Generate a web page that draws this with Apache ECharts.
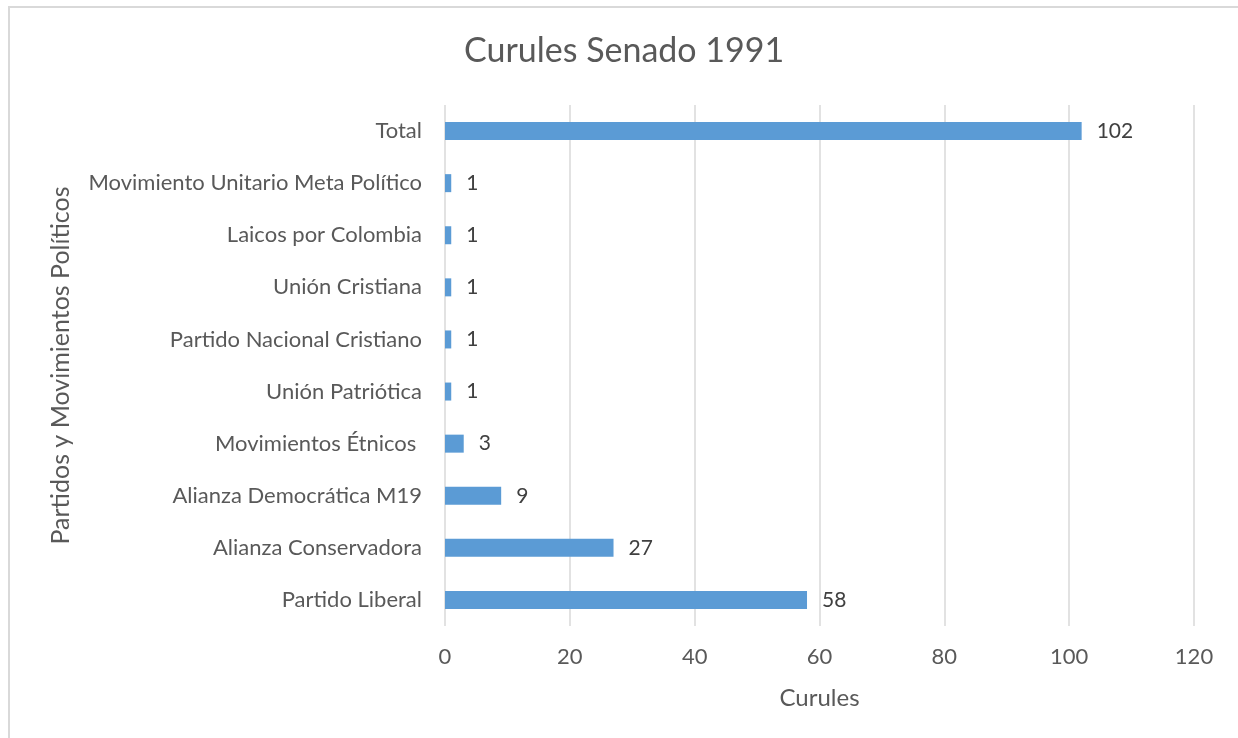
<!DOCTYPE html>
<html>
<head>
<meta charset="utf-8">
<script src="https://cdn.jsdelivr.net/npm/echarts@6/dist/echarts.min.js"></script>
<style>
    body { margin: 0; background: #fff; }
    #frame { position: absolute; left: 8px; top: 6px; width: 1240px; height: 740px;
             border-top: 2px solid #d9d9d9; border-left: 2px solid #d9d9d9; }
    #chart { position: absolute; left: 0; top: 0; width: 1238px; height: 738px; }
</style>
</head>
<body>
<div id="frame"></div>
<div id="chart"></div>
<script>
// categories from bottom to top
var partidos = ['Partido Liberal', 'Alianza Conservadora', 'Alianza Democrática M19',
    'Movimientos Étnicos ', 'Unión Patriótica', 'Partido Nacional Cristiano',
    'Unión Cristiana', 'Laicos por Colombia', 'Movimiento Unitario Meta Político', 'Total'];
var curules = [58, 27, 9, 3, 1, 1, 1, 1, 1, 102];

var font = 'Lato, "Open Sans", sans-serif';
var chart = echarts.init(document.getElementById('chart'));
var option = {
    backgroundColor: 'transparent',
    textStyle: { fontFamily: font },
    title: {
        text: 'Curules Senado 1991',
        left: 459,
        top: 29,
        textStyle: { fontFamily: font, fontSize: 34, fontWeight: 'normal', color: '#595959' }
    },
    grid: { left: 445, right: 44, top: 105, bottom: 112 },
    xAxis: {
        type: 'value',
        min: 0,
        max: 120,
        interval: 20,
        name: 'Curules',
        nameLocation: 'middle',
        nameGap: 60,
        nameTextStyle: { fontFamily: font, fontSize: 24, color: '#595959' },
        axisLine: { show: false },
        axisTick: { show: false },
        axisLabel: { fontFamily: font, fontSize: 22, color: '#595959', margin: 20 },
        splitLine: { lineStyle: { color: '#d9d9d9', width: 1.5 } }
    },
    yAxis: {
        type: 'category',
        data: partidos,
        name: 'Partidos y Movimientos Políticos',
        nameLocation: 'middle',
        nameGap: 372,
        nameTextStyle: { fontFamily: font, fontSize: 25, color: '#595959' },
        axisLine: { show: false },
        axisTick: { show: false },
        axisLabel: { fontFamily: font, fontSize: 22, color: '#595959', margin: 23 }
    },
    series: [{
        type: 'bar',
        data: curules,
        barWidth: 18,
        itemStyle: { color: '#5b9bd5' },
        label: {
            show: true,
            position: 'right',
            distance: 15,
            fontFamily: font,
            fontSize: 21,
            color: '#404040'
        }
    }]
};
chart.setOption(option);
</script>
</body>
</html>
